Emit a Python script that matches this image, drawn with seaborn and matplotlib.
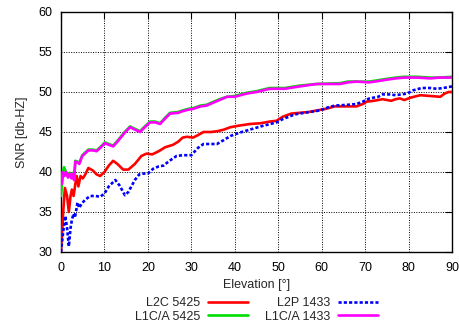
import numpy as np
import pandas as pd
import seaborn as sns
import matplotlib
matplotlib.use("Agg")
import matplotlib.pyplot as plt

# L2C 5425 (red)
el_l2c = [0, 0.5, 0.9, 1.4, 1.8, 2.2, 2.5, 2.9, 3.3, 3.6, 4.0, 4.5, 5.0, 5.5, 6.3, 7.3, 8.2, 9.0,
          10.0, 11.0, 12.0, 13.0, 14.3, 15.5, 17.0, 18.5, 19.7, 21.0, 22.5, 24.0, 25.8, 27.0, 28.0,
          29.0, 30.4, 31.5, 32.8, 34.5, 36.0, 37.5, 39.0, 41.0, 43.5, 46.0, 48.0, 49.6, 51.0, 53.0,
          55.0, 57.0, 59.0, 61.0, 63.0, 65.0, 68.0, 69.5, 70.4, 72.0, 74.0, 75.0, 76.0, 77.0, 78.0,
          79.0, 80.5, 82.7, 85.0, 87.3, 88.3, 89.2, 90.0]
snr_l2c = [30.0, 35.0, 38.0, 37.0, 35.0, 37.0, 37.8, 37.0, 38.5, 39.5, 38.2, 39.5, 39.2, 39.6, 40.5,
           40.2, 39.7, 39.5, 40.0, 40.8, 41.4, 41.0, 40.3, 40.3, 41.0, 42.0, 42.3, 42.2, 42.6, 43.1,
           43.4, 43.8, 44.3, 44.4, 44.3, 44.6, 45.0, 45.0, 45.1, 45.3, 45.6, 45.8, 46.0, 46.1, 46.3,
           46.4, 46.9, 47.3, 47.4, 47.5, 47.7, 47.9, 48.2, 48.2, 48.2, 48.5, 48.8, 48.9, 49.1, 49.0,
           48.9, 49.1, 49.2, 49.0, 49.3, 49.6, 49.5, 49.4, 49.8, 50.0, 50.0]

# L2P 1433 (blue, dotted)
el_l2p = [0, 0.5, 1.0, 1.4, 1.8, 2.2, 2.5, 2.9, 3.2, 3.5, 3.8, 4.2, 4.7, 5.5, 6.7, 8.0, 9.0, 10.0,
          11.0, 12.5, 13.5, 14.7, 15.5, 17.0, 18.0, 19.0, 20.0, 21.2, 22.5, 23.6, 24.5, 25.5, 26.6,
          28.0, 30.0, 31.5, 32.8, 35.9, 37.5, 39.0, 41.0, 43.5, 46.0, 49.6, 51.0, 53.8, 56.0, 59.6,
          61.0, 63.0, 66.0, 68.0, 69.5, 71.0, 73.0, 74.0, 75.8, 77.0, 79.6, 81.0, 83.0, 85.0, 86.5,
          88.0, 90.0]
snr_l2p = [30.0, 32.5, 34.5, 33.0, 30.7, 33.0, 34.0, 34.8, 34.3, 35.2, 36.2, 35.5, 36.0, 36.5, 37.0,
           37.0, 36.9, 37.3, 38.2, 39.0, 38.3, 37.1, 37.5, 39.0, 39.7, 39.8, 39.8, 40.4, 40.7, 40.8,
           41.2, 41.6, 42.0, 42.1, 42.1, 43.0, 43.5, 43.5, 44.0, 44.5, 44.9, 45.3, 45.7, 46.2, 46.6,
           47.2, 47.4, 47.7, 48.0, 48.3, 48.4, 48.5, 48.8, 49.2, 49.4, 49.7, 49.7, 49.6, 49.8, 50.2,
           50.5, 50.5, 50.4, 50.5, 50.7]

# L1C/A 1433 (magenta)
el_l1_1433 = [0.2, 0.5, 0.8, 1.2, 1.6, 2.0, 2.4, 2.8, 3.0, 3.3, 3.8, 4.2, 4.9, 5.5, 6.3, 7.3, 8.2,
              9.2, 10.1, 11.0, 12.0, 13.0, 14.5, 15.9, 17.0, 18.2, 19.3, 20.5, 21.7, 22.8, 24.0,
              25.1, 27.0, 28.0, 29.4, 30.5, 32.1, 33.5, 35.2, 36.5, 38.2, 40.0, 42.7, 45.0, 48.0,
              51.5, 55.0, 58.8, 64.2, 66.0, 68.0, 71.0, 74.5, 77.0, 79.0, 82.0, 85.0, 87.0, 90.0]
snr_l1_1433 = [38.5, 40.0, 39.5, 40.0, 39.3, 39.8, 39.2, 39.8, 39.0, 41.3, 41.2, 41.0, 42.0, 42.3,
               42.7, 42.7, 42.6, 43.1, 43.6, 43.4, 43.2, 43.8, 44.8, 45.6, 45.3, 45.0, 45.6, 46.2,
               46.2, 46.0, 46.7, 47.3, 47.4, 47.6, 47.8, 47.9, 48.2, 48.3, 48.7, 49.0, 49.4, 49.4,
               49.8, 50.0, 50.4, 50.4, 50.7, 51.0, 51.0, 51.2, 51.3, 51.2, 51.5, 51.7, 51.8, 51.8,
               51.7, 51.8, 51.8]

# L1C/A 5425 (green, mostly hidden under magenta)
el_l1_5425 = [0.0, 0.4, 0.7, 1.0, 1.4, 2.0, 2.4, 2.8, 3.0, 3.3, 3.8, 4.2, 4.9, 5.5, 6.3, 7.3, 8.2,
              9.2, 10.1, 11.0, 12.0, 13.0, 14.5, 15.9, 17.0, 18.2, 19.3, 20.5, 21.7, 22.8, 24.0,
              25.1, 27.0, 28.0, 29.4, 30.5, 32.1, 33.5, 35.2, 36.5, 38.2, 40.0, 42.7, 45.0, 48.0,
              51.5, 55.0, 58.8, 64.2, 66.0, 68.0, 71.0, 74.5, 77.0, 79.0, 82.0, 85.0, 87.0, 90.0]
snr_l1_5425 = [37.0, 40.0, 40.6, 40.2, 39.6, 39.9, 39.3, 39.9, 39.1, 41.4, 41.3, 41.1, 42.1, 42.4,
               42.8, 42.8, 42.7, 43.2, 43.7, 43.5, 43.3, 43.9, 44.9, 45.7, 45.4, 45.1, 45.7, 46.3,
               46.3, 46.1, 46.8, 47.4, 47.5, 47.7, 47.9, 48.0, 48.3, 48.4, 48.8, 49.1, 49.4, 49.5,
               49.9, 50.1, 50.5, 50.5, 50.8, 51.0, 51.1, 51.3, 51.3, 51.3, 51.6, 51.8, 51.9, 51.9,
               51.8, 51.8, 51.9]

sns.set_style("white")
plt.rcParams['font.family'] = ['Liberation Sans', 'DejaVu Sans']
plt.rcParams['font.size'] = 9

fig = plt.figure(figsize=(4.6, 3.25), dpi=100)
ax = fig.add_axes([61 / 460, 73 / 325, 391 / 460, 240 / 325])

sns.lineplot(x=el_l2c, y=snr_l2c, ax=ax, color='#ff0000', lw=1.9, label='L2C 5425', zorder=3)
sns.lineplot(x=el_l1_5425, y=snr_l1_5425, ax=ax, color='#00dd00', lw=1.9, label='L1C/A 5425', zorder=3)
sns.lineplot(x=el_l2p, y=snr_l2p, ax=ax, color='#0000ff', lw=1.9, label='L2P 1433',
             linestyle=(0, (1.2, 0.8)), zorder=3)
sns.lineplot(x=el_l1_1433, y=snr_l1_1433, ax=ax, color='#ff00ff', lw=1.9, label='L1C/A 1433', zorder=4)

ax.set_xlim(0, 90)
ax.set_ylim(30, 60)
ax.set_xticks(np.arange(0, 91, 10))
ax.set_yticks(np.arange(30, 61, 5))
ax.grid(True, color='black', linestyle=(0, (1, 1.5)), linewidth=0.7)
ax.tick_params(direction='in', length=5, width=0.8, top=True, right=True,
               labelsize=9, colors='black')
ax.tick_params(axis='x', pad=7)
ax.tick_params(axis='y', pad=6)
for s in ax.spines.values():
    s.set_color('black')
    s.set_linewidth(1.0)
ax.set_xlabel('Elevation [°]', fontsize=9, labelpad=4)
ax.set_ylabel('SNR [db-HZ]', fontsize=9, labelpad=8)

handles, labels = ax.get_legend_handles_labels()
ax.get_legend().remove()
fig.legend(handles, labels, ncol=2, loc='center', bbox_to_anchor=(0.558, 0.046),
           frameon=False, markerfirst=False, handlelength=3.2, handletextpad=0.6,
           columnspacing=1.4, labelspacing=0.12, fontsize=9)

fig.savefig('out.png', dpi=100)
